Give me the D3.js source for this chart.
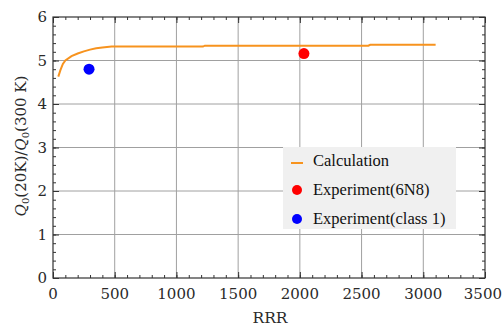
<!DOCTYPE html>
<html>
<head>
<meta charset="utf-8">
<script src="https://cdn.jsdelivr.net/npm/d3@7"></script>
<style>
  body { margin: 0; background: #fff; }
  svg { display: block; }
</style>
</head>
<body>
<div id="chart"></div>
<script>
// calculation curve
const calcRRR = [43, 60, 80, 100, 150, 200, 250, 300, 350, 400, 475, 600, 1000, 1215, 1230, 2555, 2570, 3100];
const calcQ = [4.63, 4.78, 4.92, 5.0, 5.1, 5.16, 5.21, 5.25, 5.28, 5.3, 5.32, 5.32, 5.32, 5.32, 5.34, 5.34, 5.36, 5.36];
// experiment points
const exp6N8 = [{ rrr: 2033, q: 5.16 }];
const expClass1 = [{ rrr: 292, q: 4.8 }];
const xTicks = [0, 500, 1000, 1500, 2000, 2500, 3000, 3500];
const yTicks = [0, 1, 2, 3, 4, 5, 6];
const legendItems = ['Calculation', 'Experiment(6N8)', 'Experiment(class 1)'];

const width = 503, height = 328;
const margin = { top: 17, right: 18, bottom: 50, left: 53 };

const svg = d3.select('#chart').append('svg').attr('width', width).attr('height', height);

const x = d3.scaleLinear().domain([0, 3500]).range([margin.left, width - margin.right]);
const y = d3.scaleLinear().domain([0, 6]).range([height - margin.bottom, margin.top]);

const tickFont = '"DejaVu Serif", serif';
const legendFont = '"Liberation Serif", serif';

// grid
svg.append('g').selectAll('line').data(xTicks.slice(1, -1)).enter().append('line')
  .attr('x1', d => x(d)).attr('x2', d => x(d)).attr('y1', y(0)).attr('y2', y(6))
  .attr('stroke', '#a0a0a0').attr('stroke-width', 1);
svg.append('g').selectAll('line').data(yTicks.slice(1, -1)).enter().append('line')
  .attr('x1', x(0)).attr('x2', x(3500)).attr('y1', d => y(d)).attr('y2', d => y(d))
  .attr('stroke', '#a0a0a0').attr('stroke-width', 1);

// axes: ticks inward on all four sides
const xMinor = d3.range(0, 3501, 100);
const yMinor = d3.range(0, 6.01, 0.2);
const frame = svg.append('g');
const ax = [
  { g: d3.axisBottom(x), t: `translate(0,${y(0)})` },
  { g: d3.axisTop(x), t: `translate(0,${y(6)})` }
];
ax.forEach(a => {
  frame.append('g').attr('transform', a.t)
    .call(a.g.tickValues(xMinor).tickSize(-3).tickFormat(''))
    .call(g => g.select('.domain').remove())
    .selectAll('line').attr('stroke', '#333');
  frame.append('g').attr('transform', a.t)
    .call(a.g.tickValues(xTicks).tickSize(-6).tickFormat(''))
    .call(g => g.select('.domain').remove())
    .selectAll('line').attr('stroke', '#333');
});
const ay = [
  { g: d3.axisLeft(y), t: `translate(${x(0)},0)` },
  { g: d3.axisRight(y), t: `translate(${x(3500)},0)` }
];
ay.forEach(a => {
  frame.append('g').attr('transform', a.t)
    .call(a.g.tickValues(yMinor).tickSize(-3).tickFormat(''))
    .call(g => g.select('.domain').remove())
    .selectAll('line').attr('stroke', '#333');
  frame.append('g').attr('transform', a.t)
    .call(a.g.tickValues(yTicks).tickSize(-6).tickFormat(''))
    .call(g => g.select('.domain').remove())
    .selectAll('line').attr('stroke', '#333');
});
svg.append('rect').attr('x', x(0)).attr('y', y(6))
  .attr('width', x(3500) - x(0)).attr('height', y(0) - y(6))
  .attr('fill', 'none').attr('stroke', '#333').attr('stroke-width', 1.2);

// tick labels (last one kept inside the page)
svg.append('g').selectAll('text').data(xTicks).enter().append('text')
  .attr('x', d => d === 3500 ? width - 1 : x(d)).attr('y', y(0) + 21)
  .attr('text-anchor', d => d === 3500 ? 'end' : 'middle')
  .style('font-family', tickFont).style('font-size', '15px')
  .attr('fill', '#2a2a2a').text(d => d);
svg.append('g').selectAll('text').data(yTicks).enter().append('text')
  .attr('x', x(0) - 6).attr('y', d => y(d) + 5)
  .attr('text-anchor', 'end').style('font-family', tickFont).style('font-size', '15px')
  .attr('fill', '#2a2a2a').text(d => d);

// axis titles
svg.append('text').attr('x', (x(0) + x(3500)) / 2 + 1).attr('y', 323)
  .attr('text-anchor', 'middle').style('font-family', tickFont).style('font-size', '15.5px')
  .attr('fill', '#2a2a2a').text('RRR');
const yl = svg.append('text').attr('transform', `translate(26,146) rotate(-90)`)
  .attr('text-anchor', 'middle').style('font-family', tickFont).style('font-size', '15px').attr('fill', '#2a2a2a');
yl.append('tspan').style('font-style', 'italic').text('Q');
yl.append('tspan').attr('dy', 3).style('font-size', '10px').text('0');
yl.append('tspan').attr('dy', -3).text('(20K)/');
yl.append('tspan').style('font-style', 'italic').text('Q');
yl.append('tspan').attr('dy', 3).style('font-size', '10px').text('0');
yl.append('tspan').attr('dy', -3).text('(300 K)');

// curve
const line = d3.line().x(d => x(d[0])).y(d => y(d[1]));
svg.append('path').datum(calcRRR.map((r, i) => [r, calcQ[i]]))
  .attr('d', line).attr('fill', 'none').attr('stroke', '#f7931e').attr('stroke-width', 2);

// points
svg.selectAll('.p6').data(exp6N8).enter().append('circle')
  .attr('cx', d => x(d.rrr)).attr('cy', d => y(d.q)).attr('r', 5.5).attr('fill', '#ff0000');
svg.selectAll('.pc').data(expClass1).enter().append('circle')
  .attr('cx', d => x(d.rrr)).attr('cy', d => y(d.q)).attr('r', 5.5).attr('fill', '#0000ff');

// legend
const lg = svg.append('g').attr('transform', 'translate(283,147)');
lg.append('rect').attr('width', 173).attr('height', 82).attr('fill', '#f0f0f0');
const colors = ['#f7931e', '#ff0000', '#0000ff'];
legendItems.forEach((t, i) => {
  const cy = 14 + i * 29;
  if (i === 0) {
    lg.append('line').attr('x1', 8).attr('x2', 20).attr('y1', cy + 2).attr('y2', cy + 2)
      .attr('stroke', colors[i]).attr('stroke-width', 2);
  } else {
    lg.append('circle').attr('cx', 14).attr('cy', cy).attr('r', 5).attr('fill', colors[i]);
  }
  lg.append('text').attr('x', 30).attr('y', cy + 5)
    .style('font-family', legendFont).style('font-size', '16.5px').attr('fill', '#111').text(t);
});
</script>
</body>
</html>
